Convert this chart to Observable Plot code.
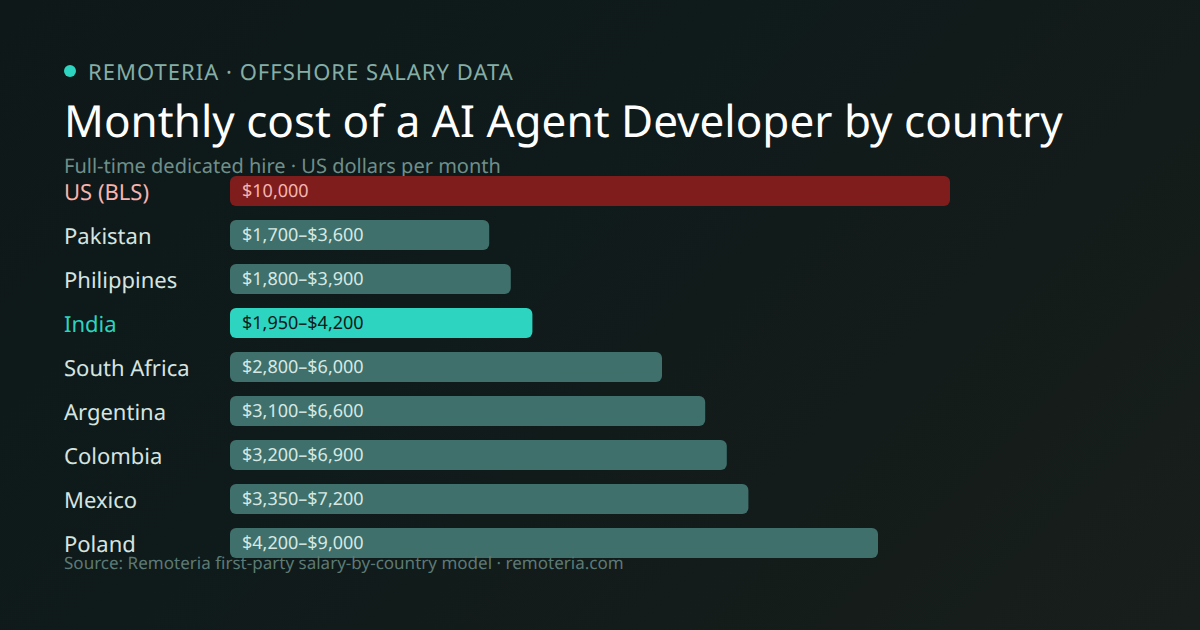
<!DOCTYPE html>
<html>
<head>
<meta charset="utf-8">
<script src="https://cdn.jsdelivr.net/npm/d3@7"></script>
<script src="https://cdn.jsdelivr.net/npm/@observablehq/plot@0.6"></script>
<style>
html,body{margin:0;padding:0;width:1200px;height:630px;overflow:hidden;background:linear-gradient(135deg,#0e1818 0%,#0f1a1a 40%,#181e1b 100%);font-family:"Noto Sans",sans-serif;text-rendering:geometricPrecision}
.t{position:absolute;left:64px;white-space:nowrap;line-height:1}
#dot{position:absolute;left:64px;top:65px;width:12px;height:12px;border-radius:50%;background:#2dd4bf}
#eyebrow{left:88px;top:61px;font-size:22px;letter-spacing:1.02px;color:#85aea7}
#title{top:98px;font-size:44px;letter-spacing:.02px;color:#fff;}
#sub{top:156px;font-size:20px;color:#6f8f8a}
#src{top:554px;font-size:17px;letter-spacing:.01px;color:#5c7a75}
#chart{position:absolute;left:0;top:0}
#chart svg text{text-rendering:geometricPrecision}
</style>
</head>
<body>
<div id="dot"></div>
<div class="t" id="eyebrow">REMOTERIA · OFFSHORE SALARY DATA</div>
<div class="t" id="title">Monthly cost of a AI Agent Developer by country</div>
<div class="t" id="sub">Full-time dedicated hire · US dollars per month</div>
<div id="chart"></div>
<div class="t" id="src">Source: Remoteria first-party salary-by-country model · remoteria.com</div>
<script>
const countries = ["US (BLS)","Pakistan","Philippines","India","South Africa","Argentina","Colombia","Mexico","Poland"];
const highs = [10000,3600,3900,4200,6000,6600,6900,7200,9000];
const rangeLabels = ["$10,000","$1,700–$3,600","$1,800–$3,900","$1,950–$4,200","$2,800–$6,000","$3,100–$6,600","$3,200–$6,900","$3,350–$7,200","$4,200–$9,000"];
const barColors = ["#7f1d1d","#3f706b","#3f706b","#2dd4bf","#3f706b","#3f706b","#3f706b","#3f706b","#3f706b"];
const nameColors = ["#f5b5b0","#d6e4e0","#d6e4e0","#2dd4bf","#d6e4e0","#d6e4e0","#d6e4e0","#d6e4e0","#d6e4e0"];
const valueColors = ["#f5b5b0","#d6e8e3","#d6e8e3","#0f1a1a","#d6e8e3","#d6e8e3","#d6e8e3","#d6e8e3","#d6e8e3"];
const rows = countries.map((c,i)=>({c,high:highs[i],label:rangeLabels[i],bar:barColors[i],name:nameColors[i],val:valueColors[i]}));
const plot = Plot.plot({
  width:1200,height:630,margin:0,
  style:{background:"transparent",fontFamily:"'Noto Sans',sans-serif"},
  x:{domain:[0,10000],range:[230,950],axis:null},
  y:{domain:countries,range:[176,558],paddingInner:14/44,paddingOuter:0,axis:null},
  marks:[
    Plot.barX(rows,{x1:0,x2:"high",y:"c",fill:d=>d.bar,rx:6}),
    Plot.text(rows,{x:0,y:"c",text:"label",fill:d=>d.val,textAnchor:"start",dx:11.5,fontSize:18}),
    Plot.text(rows,{x:0,y:"c",text:"c",fill:d=>d.name,textAnchor:"start",dx:-166.5,dy:1,fontSize:22})
  ]
});
document.getElementById("chart").append(plot);
</script>
</body>
</html>
